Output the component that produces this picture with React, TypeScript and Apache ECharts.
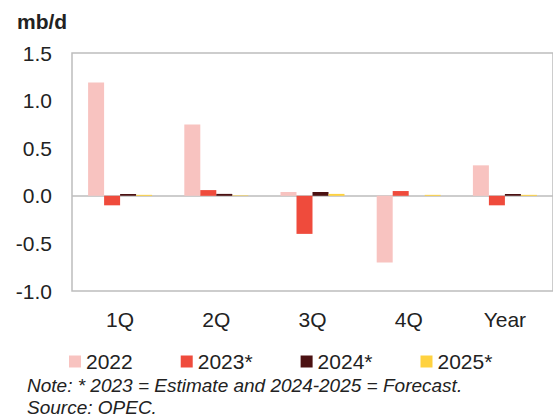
import React, { useEffect, useRef } from "react";
import * as echarts from "echarts";

const categories = ["1Q", "2Q", "3Q", "4Q", "Year"];
const s2022 = [1.19, 0.75, 0.04, -0.70, 0.32];
const s2023 = [-0.10, 0.06, -0.40, 0.05, -0.10];
const s2024 = [0.02, 0.02, 0.04, 0.0, 0.02];
const s2025 = [0.01, 0.005, 0.02, 0.01, 0.01];
const seriesNames = ["2022", "2023*", "2024*", "2025*"];
const colors = ["#F8C3C0", "#EF4B3C", "#4B1112", "#FFD23F"];
const yTicks = { min: -1, max: 1.5, interval: 0.5 };

const FONT = "'Liberation Sans', Arial, sans-serif";

export default function App() {
  const ref = useRef<HTMLDivElement>(null);
  useEffect(() => {
    if (!ref.current) return;
    const chart = echarts.init(ref.current, null, { renderer: "svg" });
    const data = [s2022, s2023, s2024, s2025];
    chart.setOption({
      animation: false,
      textStyle: { fontFamily: FONT },
      grid: {
        left: 72,
        top: 53,
        height: 238,
        width: 495,
        show: true,
        borderColor: "#BDBDBD",
        borderWidth: 1.5,
      },
      legend: {
        left: 64,
        top: 346,
        itemWidth: 12,
        itemHeight: 12,
        itemGap: 48,
        icon: "rect",
        textStyle: { fontSize: 21, color: "#222", fontFamily: FONT },
        data: seriesNames,
      },
      xAxis: {
        type: "category",
        data: categories,
        axisLine: { show: false, onZero: false },
        axisTick: { show: false },
        axisLabel: { fontSize: 21, color: "#222", margin: 18, fontFamily: FONT },
      },
      yAxis: {
        type: "value",
        min: yTicks.min,
        max: yTicks.max,
        interval: yTicks.interval,
        splitLine: { show: false },
        axisLine: { show: false },
        axisTick: { show: false },
        axisLabel: {
          fontSize: 21,
          color: "#222",
          margin: 20,
          fontFamily: FONT,
          formatter: (v: number) => v.toFixed(1),
        },
      },
      series: data.map((d, i) => ({
        name: seriesNames[i],
        type: "bar",
        data: d,
        barWidth: 16,
        barGap: "0%",
        itemStyle: { color: colors[i] },
        markLine:
          i === 0
            ? {
                silent: true,
                symbol: "none",
                label: { show: false },
                lineStyle: { color: "#BDBDBD", width: 1.5, type: "solid" },
                data: [{ yAxis: 0 }],
                z: 1,
              }
            : undefined,
      })),
      graphic: [
        {
          type: "text",
          left: 17,
          top: 11,
          style: { text: "mb/d", fontSize: 21, fontWeight: "bold", fill: "#222", fontFamily: FONT },
        },
        {
          type: "text",
          left: 27,
          top: 376,
          style: {
            text: "Note: * 2023 = Estimate and 2024-2025 = Forecast.",
            fontSize: 19,
            fontStyle: "italic",
            fill: "#222",
            fontFamily: FONT,
          },
        },
        {
          type: "text",
          left: 27,
          top: 398,
          style: { text: "Source: OPEC.", fontSize: 19, fontStyle: "italic", fill: "#222", fontFamily: FONT },
        },
      ],
    });
    return () => chart.dispose();
  }, []);
  return (
    <div
      ref={ref}
      style={{ position: "fixed", left: 0, top: 0, width: 553, height: 417, background: "#fff" }}
    />
  );
}
